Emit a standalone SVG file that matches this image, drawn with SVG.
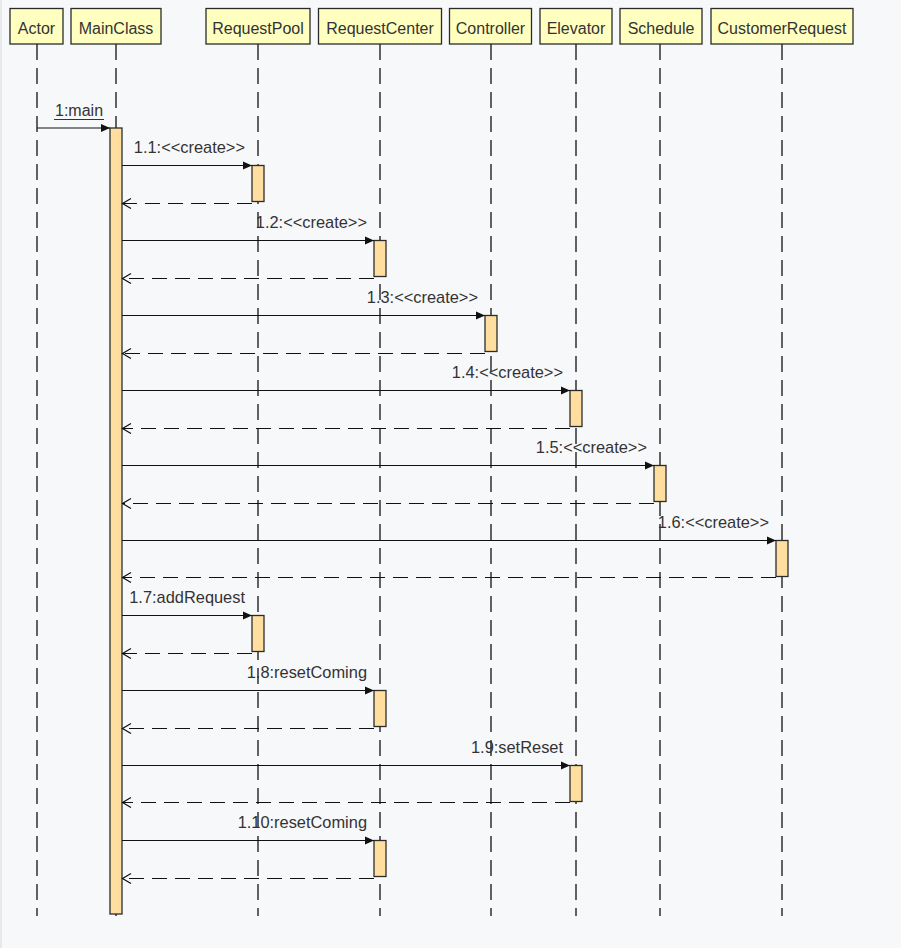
<svg xmlns="http://www.w3.org/2000/svg" width="901" height="948" viewBox="0 0 901 948">
<style>
.hdr{fill:#ffffc0;stroke:#2b2b2b;stroke-width:1.3}
.ht{font-family:"Liberation Sans",Arial,sans-serif;font-size:16px;fill:#333;text-anchor:middle}
.life{stroke:#111;stroke-width:1.3;stroke-dasharray:16 8;fill:none}
.act{fill:#ffdea0;stroke:#2b2b2b;stroke-width:1.3}
.call{stroke:#111;stroke-width:1.2;fill:none;marker-end:url(#fill)}
.ret{stroke:#111;stroke-width:1.2;fill:none;stroke-dasharray:15 8;marker-end:url(#open)}
.lbl{font-family:"Liberation Sans",Arial,sans-serif;font-size:16.4px;fill:#333;text-anchor:end}
</style>
<defs>
<marker id="fill" markerWidth="10" markerHeight="10" refX="9" refY="4.5" orient="auto" markerUnits="userSpaceOnUse">
<path d="M0,0.5 L9,4.5 L0,8.5 Z" fill="#111"/>
</marker>
<marker id="open" markerWidth="12" markerHeight="12" refX="9" refY="5.5" orient="auto" markerUnits="userSpaceOnUse">
<path d="M0.5,0.5 L9,5.5 L0.5,10.5" fill="none" stroke="#111" stroke-width="1.2"/>
</marker>
</defs>
<rect x="0" y="0" width="901" height="948" fill="#f7f8fa"/>
<rect x="0" y="0" width="2" height="948" fill="#e6e8ea"/>

<g id="Actor">
<line class="life" x1="37" y1="44" x2="37" y2="916"/>
<rect class="hdr" x="10" y="8.5" width="53" height="35.5"/>
<text class="ht" x="36.5" y="34">Actor</text>
</g>
<g id="MainClass">
<line class="life" x1="116" y1="44" x2="116" y2="916"/>
<rect class="hdr" x="71" y="8.5" width="90" height="35.5"/>
<text class="ht" x="116" y="34">MainClass</text>
<rect class="act" x="110" y="128" width="12" height="786"/>
</g>
<g id="RequestPool">
<line class="life" x1="258" y1="44" x2="258" y2="916"/>
<rect class="hdr" x="206" y="8.5" width="104" height="35.5"/>
<text class="ht" x="258" y="34">RequestPool</text>
<rect class="act" x="252" y="165.5" width="12" height="36"/>
<rect class="act" x="252" y="615.5" width="12" height="36"/>
</g>
<g id="RequestCenter">
<line class="life" x1="380" y1="44" x2="380" y2="916"/>
<rect class="hdr" x="318.5" y="8.5" width="123" height="35.5"/>
<text class="ht" x="380" y="34">RequestCenter</text>
<rect class="act" x="374" y="240.5" width="12" height="36"/>
<rect class="act" x="374" y="690.5" width="12" height="36"/>
<rect class="act" x="374" y="840.5" width="12" height="36"/>
</g>
<g id="Controller">
<line class="life" x1="491" y1="44" x2="491" y2="916"/>
<rect class="hdr" x="449.5" y="8.5" width="82" height="35.5"/>
<text class="ht" x="490.5" y="34">Controller</text>
<rect class="act" x="485" y="315.5" width="12" height="36"/>
</g>
<g id="Elevator">
<line class="life" x1="576" y1="44" x2="576" y2="916"/>
<rect class="hdr" x="540" y="8.5" width="72" height="35.5"/>
<text class="ht" x="576" y="34">Elevator</text>
<rect class="act" x="570" y="390.5" width="12" height="36"/>
<rect class="act" x="570" y="765.5" width="12" height="36"/>
</g>
<g id="Schedule">
<line class="life" x1="660" y1="44" x2="660" y2="916"/>
<rect class="hdr" x="620" y="8.5" width="82" height="35.5"/>
<text class="ht" x="661" y="34">Schedule</text>
<rect class="act" x="654" y="465.5" width="12" height="36"/>
</g>
<g id="CustomerRequest">
<line class="life" x1="782" y1="44" x2="782" y2="916"/>
<rect class="hdr" x="711" y="8.5" width="142" height="35.5"/>
<text class="ht" x="782" y="34">CustomerRequest</text>
<rect class="act" x="776" y="540.5" width="12" height="36"/>
</g>

<g id="connectors">
<line class="call" x1="37" y1="128" x2="110" y2="128"/>
<text x="55" y="116" font-family="Liberation Sans, Arial, sans-serif" font-size="16" fill="#333">1:main</text>
<line x1="54" y1="119.5" x2="104" y2="119.5" stroke="#333" stroke-width="1.2"/>

<line class="call" x1="122" y1="165.5" x2="252" y2="165.5"/>
<line class="ret" x1="252" y1="203.5" x2="122.5" y2="203.5"/>
<text class="lbl" x="245" y="153">1.1:&lt;&lt;create&gt;&gt;</text>

<line class="call" x1="122" y1="240.5" x2="374" y2="240.5"/>
<line class="ret" x1="374" y1="278.5" x2="122.5" y2="278.5"/>
<text class="lbl" x="367" y="228">1.2:&lt;&lt;create&gt;&gt;</text>

<line class="call" x1="122" y1="315.5" x2="485" y2="315.5"/>
<line class="ret" x1="485" y1="353.5" x2="122.5" y2="353.5"/>
<text class="lbl" x="478" y="303">1.3:&lt;&lt;create&gt;&gt;</text>

<line class="call" x1="122" y1="390.5" x2="570" y2="390.5"/>
<line class="ret" x1="570" y1="428.5" x2="122.5" y2="428.5"/>
<text class="lbl" x="563" y="378">1.4:&lt;&lt;create&gt;&gt;</text>

<line class="call" x1="122" y1="465.5" x2="654" y2="465.5"/>
<line class="ret" x1="654" y1="503.5" x2="122.5" y2="503.5"/>
<text class="lbl" x="647" y="453">1.5:&lt;&lt;create&gt;&gt;</text>

<line class="call" x1="122" y1="540.5" x2="776" y2="540.5"/>
<line class="ret" x1="776" y1="577.5" x2="122.5" y2="577.5"/>
<text class="lbl" x="769" y="528">1.6:&lt;&lt;create&gt;&gt;</text>

<line class="call" x1="122" y1="615.5" x2="252" y2="615.5"/>
<line class="ret" x1="252" y1="653.5" x2="122.5" y2="653.5"/>
<text class="lbl" x="245" y="603">1.7:addRequest</text>

<line class="call" x1="122" y1="690.5" x2="374" y2="690.5"/>
<line class="ret" x1="374" y1="728.5" x2="122.5" y2="728.5"/>
<text class="lbl" x="367" y="678">1.8:resetComing</text>

<line class="call" x1="122" y1="765.5" x2="570" y2="765.5"/>
<line class="ret" x1="570" y1="802.5" x2="122.5" y2="802.5"/>
<text class="lbl" x="563" y="753">1.9:setReset</text>

<line class="call" x1="122" y1="840.5" x2="374" y2="840.5"/>
<line class="ret" x1="374" y1="878.5" x2="122.5" y2="878.5"/>
<text class="lbl" x="367" y="828">1.10:resetComing</text>
</g>
</svg>
